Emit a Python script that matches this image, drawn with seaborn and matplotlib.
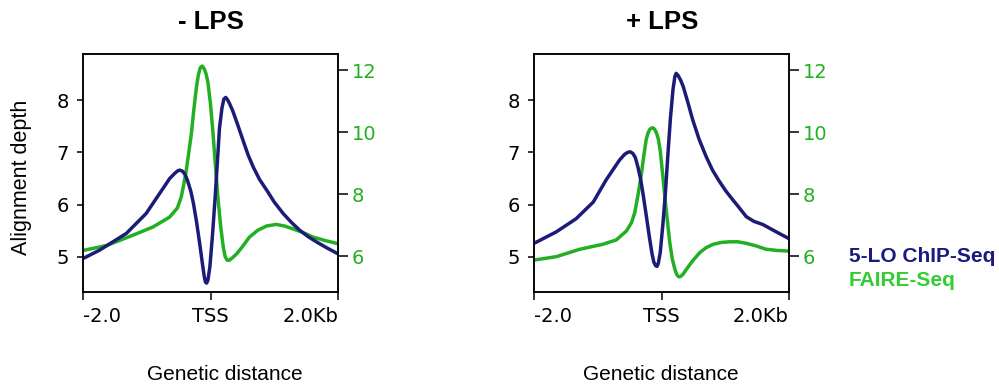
import matplotlib
matplotlib.use("Agg")
import matplotlib.pyplot as plt
import seaborn as sns
import pandas as pd

sns.set_theme(style="white")
plt.rcParams['font.family'] = ['DejaVu Sans']

# ---- data ----
panel_titles = ["- LPS", "+ LPS"]
xtick_pos = [-2.0, 0.0, 2.0]
xtick_labels = ["-2.0", "TSS", "2.0Kb"]

chip_x_minus = [-2.0, -1.74, -1.32, -1.01, -0.80, -0.64, -0.56, -0.51, -0.48, -0.44, -0.40, -0.36, -0.31, -0.27,
                -0.22, -0.17, -0.13, -0.10, -0.08, -0.06, -0.04, -0.01, 0.03, 0.07, 0.11, 0.14, 0.18, 0.21, 0.24,
                0.27, 0.30, 0.35, 0.42, 0.51, 0.59, 0.67, 0.77, 0.88, 1.0, 1.14, 1.27, 1.40, 1.53, 1.66, 1.83, 2.0]
chip_y_minus = [4.97, 5.13, 5.45, 5.83, 6.21, 6.50, 6.60, 6.65, 6.66, 6.64, 6.58, 6.46, 6.26, 6.04,
                5.68, 5.26, 4.90, 4.64, 4.52, 4.50, 4.56, 4.81, 5.40, 6.09, 6.85, 7.45, 7.85, 8.02, 8.05,
                8.00, 7.93, 7.79, 7.55, 7.23, 6.95, 6.72, 6.48, 6.28, 6.05, 5.83, 5.66, 5.51, 5.39, 5.29, 5.17, 5.06]
faire_x_minus = [-2.0, -1.63, -1.22, -0.90, -0.64, -0.52, -0.46, -0.42, -0.38, -0.34, -0.30, -0.26, -0.22,
                 -0.19, -0.16, -0.13, -0.10, -0.07, -0.04, 0.0, 0.04, 0.08, 0.12, 0.16, 0.20, 0.23, 0.26, 0.29,
                 0.33, 0.41, 0.50, 0.61, 0.74, 0.88, 1.03, 1.16, 1.29, 1.45, 1.61, 1.80, 2.0]
faire_y_minus = [6.18, 6.34, 6.67, 6.94, 7.26, 7.55, 7.90, 8.30, 8.77, 9.35, 9.95, 10.75, 11.46,
                 11.85, 12.08, 12.13, 12.05, 11.88, 11.60, 10.90, 9.95, 8.85, 7.80, 6.95, 6.29, 5.98, 5.87, 5.86,
                 5.92, 6.07, 6.30, 6.61, 6.83, 6.97, 7.02, 6.97, 6.88, 6.76, 6.61, 6.50, 6.40]

chip_x_plus = [-2.0, -1.65, -1.34, -1.07, -0.87, -0.66, -0.58, -0.53, -0.49, -0.45, -0.41, -0.37, -0.33, -0.29,
               -0.24, -0.19, -0.15, -0.12, -0.09, -0.07, -0.05, -0.02, 0.02, 0.06, 0.10, 0.14, 0.18, 0.21, 0.23,
               0.26, 0.30, 0.34, 0.41, 0.49, 0.59, 0.70, 0.80, 0.91, 1.01, 1.12, 1.22, 1.33, 1.45, 1.59, 1.80, 2.0]
chip_y_plus = [5.26, 5.48, 5.73, 6.05, 6.47, 6.85, 6.96, 7.00, 7.01, 6.98, 6.90, 6.72, 6.50, 6.21,
               5.80, 5.38, 5.07, 4.90, 4.83, 4.82, 4.88, 5.08, 5.60, 6.20, 6.95, 7.65, 8.20, 8.45, 8.51,
               8.47, 8.38, 8.26, 7.97, 7.62, 7.25, 6.92, 6.66, 6.44, 6.26, 6.09, 5.94, 5.77, 5.68, 5.62, 5.48, 5.35]
faire_x_plus = [-2.0, -1.65, -1.28, -0.92, -0.71, -0.55, -0.47, -0.42, -0.37, -0.32, -0.28, -0.24, -0.21,
                -0.18, -0.14, -0.11, -0.08, -0.05, -0.02, 0.02, 0.06, 0.10, 0.13, 0.17, 0.21, 0.24, 0.27, 0.30,
                0.34, 0.39, 0.49, 0.60, 0.70, 0.81, 0.94, 1.07, 1.20, 1.33, 1.48, 1.64, 1.82, 2.0]
faire_y_plus = [5.87, 5.98, 6.22, 6.38, 6.52, 6.81, 7.08, 7.40, 7.95, 8.58, 9.20, 9.76, 9.98,
                10.10, 10.14, 10.10, 9.98, 9.78, 9.40, 8.60, 7.75, 7.00, 6.43, 5.90, 5.57, 5.40, 5.33, 5.34,
                5.42, 5.57, 5.85, 6.11, 6.27, 6.38, 6.44, 6.46, 6.46, 6.41, 6.33, 6.22, 6.18, 6.16]

series = [
    (chip_x_minus, chip_y_minus, faire_x_minus, faire_y_minus),
    (chip_x_plus, chip_y_plus, faire_x_plus, faire_y_plus),
]

navy = "#1c1c78"
green = "#22b022"

fig = plt.figure(figsize=(9.99, 3.87), dpi=100)
W, H = 999, 387
lefts = [83, 534]
for i, (cx, cy, fx, fy) in enumerate(series):
    x0 = lefts[i]
    ax = fig.add_axes([x0 / W, 1 - 292 / H, 255 / W, 238 / H])
    ax2 = ax.twinx()
    sns.lineplot(data=pd.DataFrame({"x": cx, "y": cy}), x="x", y="y", ax=ax,
                 color=navy, linewidth=2.5, sort=False)
    sns.lineplot(data=pd.DataFrame({"x": fx, "y": fy}), x="x", y="y", ax=ax2,
                 color=green, linewidth=2.5, sort=False)
    ax.set_zorder(ax2.get_zorder() + 1)
    ax.patch.set_visible(False)
    ax.set_xlim(-2.0, 2.0)
    ax.set_ylim(4.33, 8.88)
    ax2.set_ylim(4.84, 12.52)
    ax.set_yticks([5, 6, 7, 8])
    ax2.set_yticks([6, 8, 10, 12])
    ax.set_xticks(xtick_pos)
    ax.set_xticklabels(xtick_labels)
    tl = ax.get_xticklabels()
    tl[0].set_ha("left")
    tl[-1].set_ha("right")
    ax.set_xlabel("")
    ax.set_ylabel("")
    ax2.set_ylabel("")
    for a in (ax, ax2):
        for s in a.spines.values():
            s.set_color("black")
            s.set_linewidth(1.1)
    ax.tick_params(axis="x", direction="out", length=6, width=1.1, colors="black",
                   labelsize=14, pad=5, bottom=True)
    ax.tick_params(axis="y", direction="out", length=4, width=1.1, colors="black",
                   labelsize=14, pad=6, left=True)
    ax2.tick_params(axis="y", direction="out", length=7, width=1.1, color="black",
                    labelcolor=green, labelsize=14, pad=3, right=True)
    ax.grid(False)
    ax2.grid(False)
    cxp = (x0 + 128) / W
    fig.text(cxp, 1 - 22 / H, panel_titles[i], ha="center", va="center",
             fontsize=18.5, fontweight="bold", family="Liberation Sans", color="black")
    fig.text((x0 + 142 if i == 0 else x0 + 127) / W, 1 - 375 / H, "Genetic distance",
             ha="center", va="center", fontsize=15, family="Liberation Sans", color="black")

fig.text(22 / W, 1 - 177 / H, "Alignment depth", rotation=90, ha="center", va="center",
         fontsize=15.5, family="Liberation Sans", color="black")
fig.text(849 / W, 1 - 256 / H, "5-LO ChIP-Seq", ha="left", va="center", fontsize=15,
         fontweight="bold", family="Liberation Sans", color="#1a1a80")
fig.text(849 / W, 1 - 280 / H, "FAIRE-Seq", ha="left", va="center", fontsize=15,
         fontweight="bold", family="Liberation Sans", color="#33cc33")

fig.savefig("out.png", dpi=100)
